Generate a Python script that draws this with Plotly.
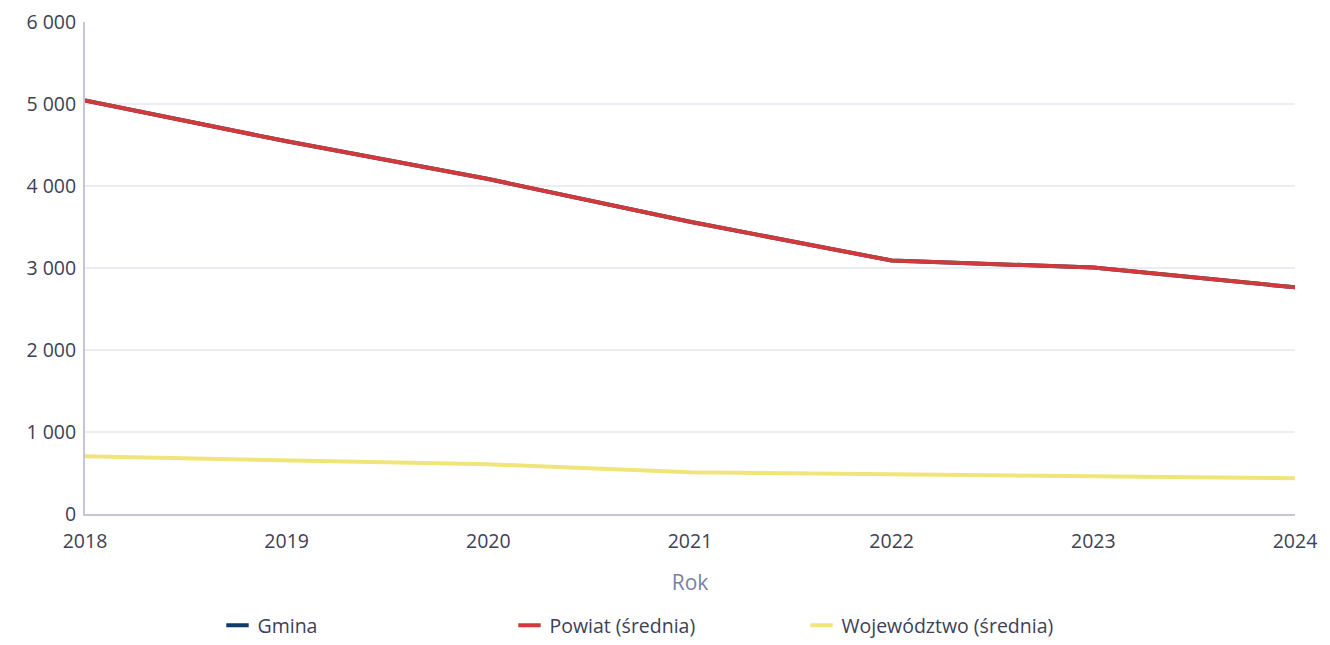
import plotly.graph_objects as go

years = [2018, 2019, 2020, 2021, 2022, 2023, 2024]
gmina = [5042, 4545, 4085, 3564, 3091, 3006, 2764]
powiat = [5042, 4545, 4085, 3564, 3091, 3006, 2764]
wojewodztwo = [703, 655, 606, 509, 485, 460, 436]

names = ["Gmina", "Powiat (średnia)", "Województwo (średnia)"]
colors = ["#0d3b6e", "#d03a3a", "#f0e57a"]
series = [gmina, powiat, wojewodztwo]

fig = go.Figure()
for n, c, s in zip(names, colors, series):
    fig.add_trace(go.Scatter(x=years, y=s, mode="lines", name=n,
                             line=dict(color=c, width=4), showlegend=False,
                             hoverinfo="x+y+name"))
for n, c in zip(names, colors):
    fig.add_trace(go.Scatter(x=[None], y=[None], mode="markers", name=n,
                             marker=dict(symbol="line-ew", size=16,
                                         line=dict(color=c, width=4))))

tick_font = dict(family="Open Sans", size=19.5, color="#3d4158")
fig.update_layout(
    width=1322, height=637,
    margin=dict(l=77, r=35, t=14, b=131),
    paper_bgcolor="white", plot_bgcolor="white",
    font=dict(family="Open Sans", color="#3d4158"),
    xaxis=dict(range=[2018, 2024], tickvals=years, ticktext=[str(y) for y in years],
               showgrid=False, showline=True, linecolor="#c5c7d8", linewidth=2,
               tickfont=tick_font, ticks="", ticklen=0, automargin=False,
               ticklabelstandoff=9, ticklabeloverflow="allow",
               title=dict(text="Rok", font=dict(family="Open Sans", size=21, color="#7a7fa2"), standoff=22),
               zeroline=False),
    yaxis=dict(range=[0, 6000], tickvals=[0, 1000, 2000, 3000, 4000, 5000, 6000],
               ticktext=["0", "1 000", "2 000", "3 000", "4 000", "5 000", "6 000"],
               showgrid=True, gridcolor="#ececf2", gridwidth=1.5,
               showline=True, linecolor="#c5c7d8", linewidth=2, automargin=False,
               ticklabeloverflow="allow",
               tickfont=tick_font, zeroline=False, ticklabelstandoff=3),
    legend=dict(orientation="h", x=0.1095, xanchor="left", xref="paper",
                y=0, yanchor="bottom", yref="container",
                entrywidth=247, entrywidthmode="pixels",
                font=dict(family="Open Sans", size=19.5, color="#3d4158"),
                itemwidth=30),
)

fig.write_html("out.html")
